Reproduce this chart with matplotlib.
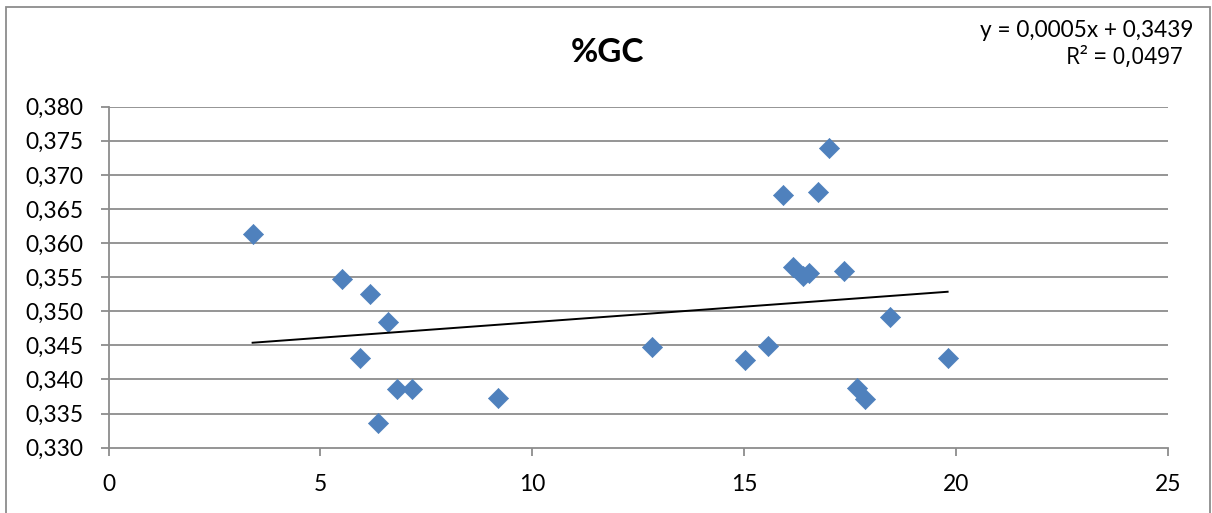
import numpy as np
import matplotlib
matplotlib.use("Agg")
import matplotlib.pyplot as plt
from matplotlib.patches import Rectangle
from matplotlib.ticker import FuncFormatter

# Data
x_vals = [3.40, 5.52, 6.16, 6.60, 5.94, 6.80, 7.16, 6.36, 9.19,
          12.82, 15.01, 15.56, 15.92, 16.73, 17.00, 16.16, 16.38, 16.53,
          17.36, 18.43, 17.66, 17.86, 19.80]
y_vals = [0.3614, 0.3547, 0.3526, 0.3484, 0.3431, 0.3386, 0.3386, 0.3336, 0.3373,
          0.3447, 0.3428, 0.3449, 0.3670, 0.3675, 0.3740, 0.3565, 0.3552, 0.3556,
          0.3559, 0.3492, 0.3387, 0.3372, 0.3432]
x_ticks = [0, 5, 10, 15, 20, 25]
y_ticks = [0.330, 0.335, 0.340, 0.345, 0.350, 0.355, 0.360, 0.365, 0.370, 0.375, 0.380]
title = "%GC"
eq_line1 = "y = 0,0005x + 0,3439"
eq_line2 = "R² = 0,0497"

plt.rcParams['font.family'] = ['Lato', 'DejaVu Sans']

W, H = 1212, 513
fig = plt.figure(figsize=(W / 100, H / 100), dpi=100)
fig.patch.set_facecolor('white')

# chart border (bottom edge falls just outside the image, as in the reference)
fig.patches.append(Rectangle((6 / W, -5 / H), 1204 / W, 511 / H, transform=fig.transFigure,
                             fill=False, edgecolor='#8c8c8c', linewidth=1.3))

ax = fig.add_axes([108.5 / W, 1 - 447.7 / H, (1168 - 108.5) / W, (447.7 - 106.7) / H])
ax.set_xlim(0, 25)
ax.set_ylim(0.330, 0.380)
ax.set_xticks(x_ticks)
ax.set_yticks(y_ticks)
ax.xaxis.set_major_formatter(FuncFormatter(lambda v, p: f"{v:g}"))
ax.yaxis.set_major_formatter(FuncFormatter(lambda v, p: f"{v:.3f}".replace('.', ',')))

for yt in y_ticks[1:]:
    ax.axhline(yt, color='#8c8c8c', linewidth=1.3, zorder=1)

for s in ['top', 'right']:
    ax.spines[s].set_visible(False)
for s in ['left', 'bottom']:
    ax.spines[s].set_color('#8c8c8c')
    ax.spines[s].set_linewidth(1.3)

ax.tick_params(axis='both', direction='out', length=6, width=1.3, color='#8c8c8c',
               labelsize=16.4, labelcolor='black')
ax.tick_params(axis='y', pad=12)
ax.tick_params(axis='x', pad=13)

ax.scatter(x_vals, y_vals, marker='D', s=105, color='#4F81BD', edgecolors='#4F81BD',
           linewidths=0.5, zorder=3, clip_on=False)

# linear trend line (least squares fit of the data)
xa = np.array(x_vals)
ya = np.array(y_vals)
slope, intercept = np.polyfit(xa, ya, 1)
xt = np.array([xa.min(), xa.max()])
ax.plot(xt, slope * xt + intercept, color='black', linewidth=1.4, zorder=4)

fig.text(608 / W, 1 - 52 / H, title, ha='center', va='center', fontsize=24, fontweight='bold')
fig.text(1193 / W, 1 - 31 / H, eq_line1, ha='right', va='center', fontsize=16.3)
fig.text(1183 / W, 1 - 58 / H, eq_line2, ha='right', va='center', fontsize=16.3,
         family=['Open Sans', 'DejaVu Sans'])

fig.savefig('out.png', dpi=100, facecolor='white')
